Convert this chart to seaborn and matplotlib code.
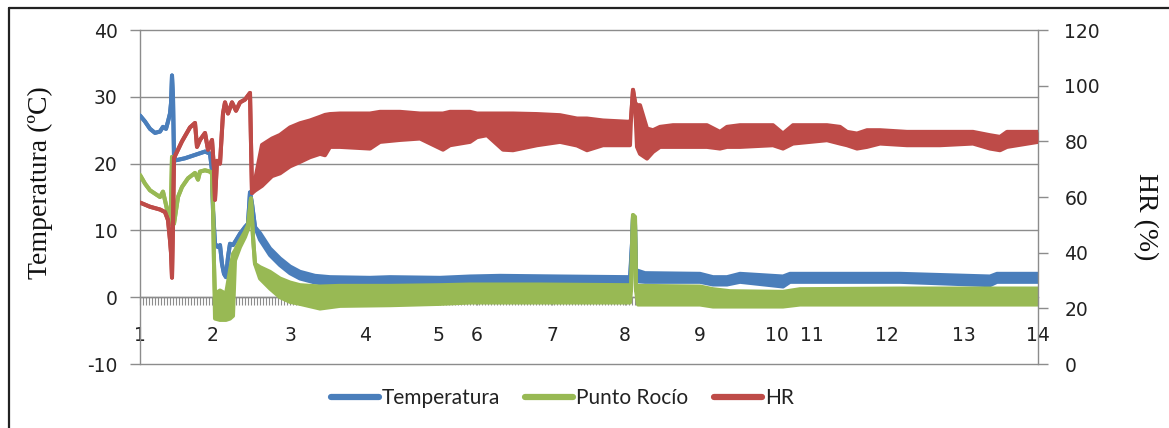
import numpy as np
import pandas as pd
import matplotlib
matplotlib.use("Agg")
import matplotlib.pyplot as plt
from matplotlib.lines import Line2D
from matplotlib.ticker import MultipleLocator
import seaborn as sns

# Position of each day's first reading along the record, and its label
day_pos = [0, 73, 150, 225, 298, 337, 412, 485, 560, 637, 672, 747, 824, 898]
day_labels = [str(d) for d in range(1, 15)]

# Temperatura (ºC): reading position, lower and upper edge of the logged trace
temp_x = [0, 5, 10, 15, 20, 23, 26, 28, 30, 31, 32, 33, 34, 36, 45, 55, 65, 70,
          72, 73, 75, 78, 80, 82, 84, 86, 88, 90, 93, 96, 100, 105, 108, 110, 112,
          115, 120, 130, 140, 150, 160, 175, 190, 230, 250, 300, 330, 360, 420,
          490, 492, 493, 495, 496, 497, 505, 560, 573, 587, 600, 643, 650, 760,
          850, 857, 898]
temp_lo = [27.2, 26.3, 25.2, 24.6, 24.8, 25.5, 25.2, 26.3, 27.5, 29.0, 33.2, 30.0,
           21.0, 20.5, 20.8, 21.3, 21.8, 21.5, 19.0, 13.0, 8.0, 7.5, 7.8, 5.0, 3.5,
           3.0, 6.0, 8.0, 7.8, 8.5, 9.5, 10.5, 11.0, 15.7, 14.0, 10.5, 8.6, 6.3,
           4.8, 3.6, 2.8, 2.2, 1.9, 1.6, 1.9, 1.8, 2.0, 2.0, 2.1, 2.0, 8.0, 12.0,
           11.0, 4.0, 2.4, 2.3, 2.3, 1.9, 1.9, 2.3, 1.6, 2.3, 2.3, 1.8, 2.3, 2.3]
temp_hi = [27.2, 26.3, 25.2, 24.6, 24.8, 25.5, 25.2, 26.3, 27.5, 29.0, 33.2, 30.0,
           21.0, 20.5, 20.8, 21.3, 21.8, 21.5, 19.0, 13.0, 8.0, 7.5, 7.8, 5.0, 3.5,
           3.0, 6.0, 8.0, 7.8, 8.5, 9.5, 10.5, 11.0, 15.7, 14.0, 10.5, 9.6, 7.3,
           5.8, 4.6, 3.8, 3.2, 3.0, 2.9, 3.0, 2.9, 3.1, 3.2, 3.1, 3.0, 8.0, 12.0,
           11.0, 4.0, 4.0, 3.6, 3.5, 3.0, 3.0, 3.5, 3.1, 3.5, 3.5, 3.1, 3.5, 3.5]

# Punto Rocío (ºC)
dew_x = [0, 5, 10, 15, 20, 23, 25, 28, 30, 31, 32, 33, 34, 36, 38, 42, 48, 55,
         58, 60, 65, 70, 72, 73, 74, 75, 80, 86, 90, 93, 95, 100, 105, 108, 111,
         113, 115, 120, 130, 140, 150, 160, 180, 200, 250, 300, 330, 400, 490,
         491, 493, 495, 496, 498, 560, 573, 590, 643, 660, 760, 898]
dew_lo = [18.3, 17.0, 16.0, 15.5, 15.0, 15.8, 14.5, 12.5, 11.0, 14.0, 21.0, 15.0,
          11.0, 13.0, 15.0, 16.5, 17.8, 18.6, 17.6, 18.8, 19.0, 18.8, 18.5, 14.0,
          5.0, -3.2, -3.4, -3.4, -3.2, -2.8, 5.5, 7.5, 9.0, 10.2, 14.8, 9.0, 5.0,
          2.8, 1.3, 0.0, -0.7, -1.0, -1.7, -1.3, -1.2, -1.0, -0.8, -0.8, -0.8,
          1.0, 12.3, 12.0, 1.0, -1.1, -1.1, -1.4, -1.4, -1.4, -1.1, -1.1, -1.1]
dew_hi = [18.3, 17.0, 16.0, 15.5, 15.0, 15.8, 14.5, 12.5, 11.0, 14.0, 21.0, 15.0,
          11.0, 13.0, 15.0, 16.5, 17.8, 18.6, 17.6, 18.8, 19.0, 18.8, 18.5, 14.0,
          5.0, 0.5, 1.0, 0.5, 4.0, 6.5, 7.0, 8.5, 9.8, 10.8, 14.8, 9.0, 5.0, 4.5,
          3.8, 2.8, 2.2, 1.8, 1.6, 1.7, 1.7, 1.8, 1.9, 1.9, 1.8, 1.0, 12.3, 12.0,
          1.0, 1.7, 1.6, 1.2, 0.9, 0.8, 1.2, 1.3, 1.3]

# HR (%)
hr_x = [0, 10, 20, 25, 28, 30, 31, 32, 33, 34, 38, 42, 50, 55, 57, 60, 65, 68,
        72, 74, 75, 77, 80, 83, 85, 88, 92, 96, 100, 105, 110, 112, 115, 122,
        132, 140, 150, 160, 170, 180, 185, 190, 200, 230, 240, 260, 280, 303,
        310, 330, 337, 347, 363, 373, 397, 420, 437, 447, 463, 490, 491, 493,
        495, 497, 500, 507, 513, 520, 533, 567, 580, 587, 600, 633, 643, 653,
        687, 700, 707, 717, 727, 740, 767, 800, 833, 850, 860, 867, 898]
hr_lo = [58.0, 56.5, 55.5, 54.6, 51.7, 44.5, 40.0, 31.0, 50.0, 74.0, 77.0, 80.0,
         85.0, 86.6, 78.0, 80.5, 83.0, 77.0, 80.5, 70.0, 59.0, 73.0, 72.0, 90.0,
         94.0, 90.0, 94.0, 91.0, 94.0, 95.0, 97.4, 61.4, 62.3, 64.0, 67.5, 68.5,
         71.0, 72.6, 74.3, 75.5, 75.0, 78.0, 78.0, 77.4, 79.8, 80.5, 81.0, 77.0,
         78.6, 79.8, 81.5, 82.2, 77.0, 76.8, 78.6, 79.8, 78.5, 76.8, 78.6, 78.6,
         88.0, 98.5, 94.0, 78.0, 75.5, 73.8, 76.2, 78.0, 78.0, 78.0, 77.4, 78.0,
         78.0, 78.6, 77.4, 79.2, 80.4, 79.2, 78.6, 77.4, 78.0, 79.2, 78.6, 78.6,
         79.2, 77.4, 76.8, 78.0, 79.8]
hr_hi = [58.0, 56.5, 55.5, 54.6, 51.7, 44.5, 40.0, 31.0, 50.0, 74.0, 77.0, 80.0,
         85.0, 86.6, 78.0, 80.5, 83.0, 77.0, 80.5, 70.0, 59.0, 73.0, 72.0, 90.0,
         94.0, 90.0, 94.0, 91.0, 94.0, 95.0, 97.4, 61.4, 66.0, 78.7, 81.0, 82.3,
         85.0, 86.5, 87.5, 88.8, 89.5, 89.8, 90.0, 90.0, 90.6, 90.6, 90.0, 90.0,
         90.6, 90.6, 90.0, 90.0, 90.0, 90.0, 89.8, 89.4, 88.2, 88.2, 87.5, 87.0,
         88.0, 98.5, 94.0, 93.0, 93.0, 84.6, 84.0, 85.2, 85.8, 85.8, 83.4, 85.2,
         85.8, 85.8, 82.8, 85.8, 85.8, 85.2, 83.4, 82.8, 84.0, 84.0, 83.4, 83.4,
         83.4, 82.2, 81.6, 83.4, 83.4]

BLUE = "#4A7EBB"
GREEN = "#98B954"
RED = "#BE4B48"
GREY = "#8C8C8C"

sns.set_theme(style="white")
plt.rcParams["font.family"] = ["DejaVu Sans"]
plt.rcParams["axes.unicode_minus"] = False

fig = plt.figure(figsize=(11.69, 4.28), dpi=100)
ax = fig.add_axes([140 / 1169, 1 - 364 / 428, 898 / 1169, 334 / 428])
ax2 = ax.twinx()


def draw_trace(axis, x, lo, hi, color):
    df = pd.DataFrame({"x": x, "lo": lo, "hi": hi})
    axis.fill_between(df["x"], df["lo"], df["hi"], color=color, lw=0, zorder=3)
    for col in ("lo", "hi"):
        sns.lineplot(data=df, x="x", y=col, ax=axis, color=color, lw=2.9,
                     estimator=None, sort=False, legend=False, zorder=3,
                     solid_joinstyle="round", solid_capstyle="round")


draw_trace(ax, temp_x, temp_lo, temp_hi, BLUE)
draw_trace(ax, dew_x, dew_lo, dew_hi, GREEN)
draw_trace(ax2, hr_x, hr_lo, hr_hi, RED)

# Left axis: temperature
ax.set_xlim(day_pos[0], day_pos[-1])
ax.set_ylim(-10, 40)
ax.set_yticks(range(-10, 41, 10))
ax.yaxis.grid(True, color=GREY, lw=1.0)
for gl in ax.get_ygridlines():
    gl.set_clip_on(False)
ax.xaxis.grid(False)
ax.set_axisbelow(True)
ax.set_xlabel("")
ax.set_ylabel("")
for side in ("top", "right"):
    ax.spines[side].set_visible(False)
ax.spines["left"].set_color(GREY)
ax.spines["left"].set_linewidth(1.0)
ax.spines["bottom"].set_position(("data", 0))
ax.spines["bottom"].set_color(GREY)
ax.spines["bottom"].set_linewidth(1.0)
ax.tick_params(axis="y", direction="out", length=7, width=1, color=GREY,
               labelsize=13.5, labelcolor="#222222", pad=9, left=True)
ax.set_xticks(day_pos)
ax.set_xticklabels(day_labels)
ax.xaxis.set_minor_locator(MultipleLocator(3))
ax.tick_params(axis="x", which="both", direction="out", length=6, width=0.8,
               color=GREY, bottom=True)
ax.tick_params(axis="x", which="major", labelsize=13.5, labelcolor="#222222", pad=15)
ax.set_ylabel("Temperatura (ºC)", family="Liberation Serif", fontsize=20,
              color="#111111")
ax.yaxis.set_label_coords(-0.097, 0.542)

# Right axis: relative humidity
ax2.set_ylim(0, 120)
ax2.set_yticks(range(0, 121, 20))
ax2.grid(False)
ax2.set_ylabel("")
for side in ("top", "left", "bottom"):
    ax2.spines[side].set_visible(False)
ax2.spines["right"].set_color(GREY)
ax2.spines["right"].set_linewidth(1.0)
ax2.tick_params(axis="y", direction="out", length=7, width=1, color=GREY,
                labelsize=13.5, labelcolor="#222222", pad=12, right=True)
ax2.set_ylabel("HR (%)", family="Liberation Serif", fontsize=20,
               color="#111111", rotation=270, va="center")
ax2.yaxis.set_label_coords(1.120, 0.44)

# Legend below the plot area
handles = [Line2D([], [], color=c, lw=4.5, solid_capstyle="round")
           for c in (BLUE, GREEN, RED)]
fig.legend(handles, ["Temperatura", "Punto Rocío", "HR"], loc="center",
           bbox_to_anchor=(0.481, 0.07), ncol=3, frameon=False,
           prop={"family": "Lato", "size": 15}, handlelength=2.3,
           handletextpad=0.15, columnspacing=1.2, labelcolor="#222222")

# Chart frame
fig.add_artist(Line2D([9 / 1169, 9 / 1169], [0, 1 - 8 / 428],
                      transform=fig.transFigure, color="#222222", lw=1.6))
fig.add_artist(Line2D([9 / 1169, 1], [1 - 8 / 428, 1 - 8 / 428],
                      transform=fig.transFigure, color="#222222", lw=1.6))

fig.savefig("out.png", dpi=100, facecolor="white")
